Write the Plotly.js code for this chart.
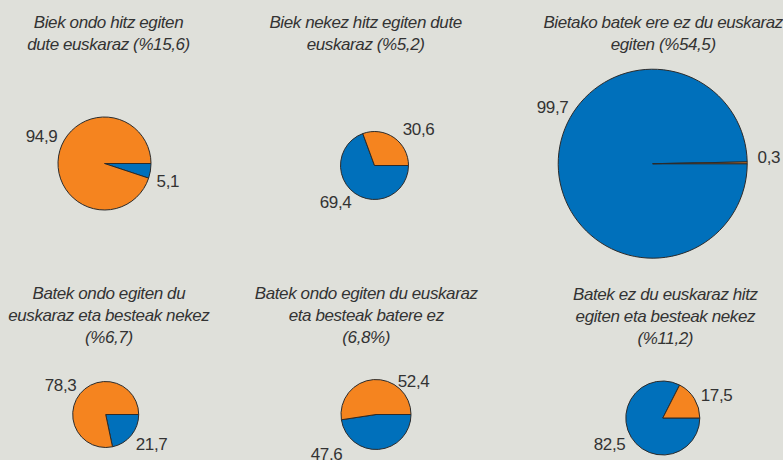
<!DOCTYPE html>
<html>
<head>
<meta charset="utf-8">
<script src="https://cdn.plot.ly/plotly-3.0.1.min.js"></script>
<style>
html,body{margin:0;padding:0;background:#dfe0da;}
#chart{width:783px;height:460px;}
#chart .annotation-text{letter-spacing:-0.4px;}
</style>
</head>
<body>
<div id="chart"></div>
<script>
// ---- data ----
const titles = [
  "Biek ondo hitz egiten<br>dute euskaraz (%15,6)",
  "Biek nekez hitz egiten dute<br>euskaraz (%5,2)",
  "Bietako batek ere ez du euskaraz<br>egiten (%54,5)",
  "Batek ondo egiten du<br>euskaraz eta besteak nekez<br>(%6,7)",
  "Batek ondo egiten du euskaraz<br>eta besteak batere ez<br>(6,8%)",
  "Batek ez du euskaraz hitz<br>egiten eta besteak nekez<br>(%11,2)"
];
const categories = ["Urdina", "Laranja"];
const blueValues   = [5.1, 69.4, 99.7, 21.7, 47.6, 82.5];
const orangeValues = [94.9, 30.6, 0.3, 78.3, 52.4, 17.5];
const blueLabels   = ["5,1", "69,4", "99,7", "21,7", "47,6", "82,5"];
const orangeLabels = ["94,9", "30,6", "0,3", "78,3", "52,4", "17,5"];

// ---- layout geometry (pixels) ----
const W = 783, H = 460;
const pies = [ // center x, center y, radius
  {cx:104.5, cy:163.5, r:46.5},
  {cx:374.5, cy:165.5, r:34},
  {cx:652.7, cy:163.7, r:94.5},
  {cx:105.7, cy:414.5, r:33},
  {cx:376,   cy:414.5, r:35},
  {cx:662.8, cy:418,   r:37}
];
const titlePos = [
  {x:109, y:10.5}, {x:365.5, y:10.5}, {x:663, y:10.5},
  {x:109, y:281.5}, {x:366.5, y:281.5}, {x:665, y:282.5}
];
const bluePos   = [{x:168,y:182},{x:335.5,y:202},{x:552.5,y:108},{x:151.5,y:444.5},{x:326,y:454.5},{x:609.5,y:444.5}];
const orangePos = [{x:41,y:137},{x:418,y:130},{x:769,y:157.5},{x:60.5,y:385.5},{x:413,y:381},{x:716,y:395.5}];

const BLUE = "#0070bb", ORANGE = "#f5841f", LINE = "#2b2b2b", TXT = "#333333";
const FONT = "'Liberation Sans', Arial, sans-serif";

const px = x => x / W;
const py = y => 1 - y / H;

const data = pies.map((p, i) => ({
  type: "pie",
  labels: categories,
  values: [blueValues[i], orangeValues[i]],
  sort: false,
  direction: "clockwise",
  rotation: 90,
  textinfo: "none",
  hoverinfo: "none",
  showlegend: false,
  marker: {colors: [BLUE, ORANGE], line: {color: LINE, width: 1}},
  domain: {x: [px(p.cx - p.r), px(p.cx + p.r)], y: [py(p.cy + p.r), py(p.cy - p.r)]}
}));

const annotations = [];
titles.forEach((t, i) => {
  annotations.push({
    text: t, x: px(titlePos[i].x), y: py(titlePos[i].y), xref: "paper", yref: "paper",
    xanchor: "center", yanchor: "top", showarrow: false, align: "center",
    font: {family: FONT, size: 17, color: TXT, style: "italic"}
  });
  annotations.push({
    text: blueLabels[i], x: px(bluePos[i].x), y: py(bluePos[i].y), xref: "paper", yref: "paper",
    xanchor: "center", yanchor: "middle", showarrow: false,
    font: {family: FONT, size: 17, color: TXT}
  });
  annotations.push({
    text: orangeLabels[i], x: px(orangePos[i].x), y: py(orangePos[i].y), xref: "paper", yref: "paper",
    xanchor: "center", yanchor: "middle", showarrow: false,
    font: {family: FONT, size: 17, color: TXT}
  });
});

const layout = {
  width: W, height: H,
  margin: {l: 0, r: 0, t: 0, b: 0},
  paper_bgcolor: "#dfe0da",
  plot_bgcolor: "#dfe0da",
  showlegend: false,
  annotations: annotations
};

Plotly.newPlot("chart", data, layout, {displayModeBar: false, staticPlot: true});
</script>
</body>
</html>
